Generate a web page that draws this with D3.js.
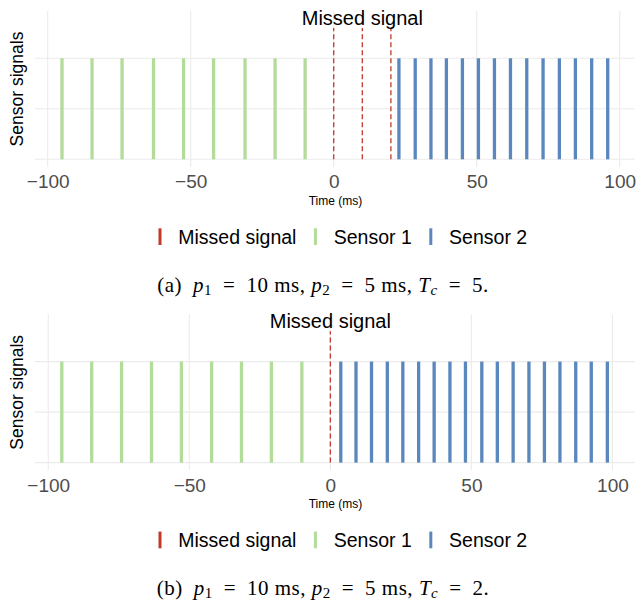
<!DOCTYPE html>
<html>
<head>
    <meta charset="utf-8">
    <script src="https://cdn.jsdelivr.net/npm/d3@7/dist/d3.min.js"></script>
    <style>
        body { margin: 0; background: #fff; }
    </style>
</head>

<body>
<div id="chart"></div>

<script>

    // data (times in ms)
    var sensor1A = [-95, -84.5, -74, -63, -52.5, -42, -31, -20.5, -10];
    var sensor2A = [22.8, 28.5, 34, 39.4, 45, 50.6, 56.2, 61.8, 67.5, 73.2, 78.9, 84.5, 90.2, 95.8];
    var missedA = [0, 10, 20];

    var sensor1B = [-95.2, -84.6, -74, -63.4, -52.8, -42.1, -31.5, -20.9, -10.1];
    var sensor2B = [3.7, 9.1, 14.6, 20.2, 25.7, 31.3, 36.8, 42.4, 47.9, 53.7, 59.2, 64.8, 70.4, 75.9, 81.4, 87.0, 92.5, 98.2];
    var missedB = [0];

    var xTicks = [-100, -50, 0, 50, 100];
    var yTicks = [0, 0.5, 1];

    var signalTop = 1;     // height of sensor bars
    var missedTop = 1.3;   // height of dashed lines
    var labelY = 1.4;      // where "Missed signal" sits

    var legendNames = ['Missed signal', 'Sensor 1', 'Sensor 2'];
    var colors = { missed: '#c0392b', s1: '#b3dc9b', s2: '#5a87bd' };
    var legendColors = [colors.missed, colors.s1, colors.s2];

    var width = 638, height = 603;
    var panelOffset = 303.3;

    var svg = d3.select('#chart').append('svg')
        .attr('width', width)
        .attr('height', height)
        .style('font-family', 'Liberation Sans, Arial, sans-serif');

    function drawPanel(top, xDomain, s1, s2, missed, captionParts) {
        var g = svg.append('g').attr('transform', 'translate(0,' + top + ')');

        var x = d3.scaleLinear().domain(xDomain).range([35, 634.7]);
        var y = d3.scaleLinear().domain([-0.076, 1.468]).range([167, 11]);

        // grid
        g.selectAll('.vgrid').data(xTicks).enter().append('line')
            .attr('x1', x).attr('x2', x)
            .attr('y1', y.range()[1]).attr('y2', y.range()[0])
            .attr('stroke', '#ebebeb').attr('stroke-width', 1.1);
        g.selectAll('.hgrid').data(yTicks).enter().append('line')
            .attr('x1', x.range()[0]).attr('x2', x.range()[1])
            .attr('y1', y).attr('y2', y)
            .attr('stroke', '#ebebeb').attr('stroke-width', 1.1);

        // x axis labels
        var axis = g.append('g')
            .attr('transform', 'translate(0,' + y.range()[0] + ')')
            .call(d3.axisBottom(x).tickValues(xTicks).tickSize(0).tickPadding(8));
        axis.select('.domain').remove();
        axis.selectAll('text')
            .attr('fill', '#4d4d4d')
            .style('font-size', '19px')
            .style('font-family', 'Liberation Sans, Arial, sans-serif');

        // sensor bars
        g.selectAll('.s1').data(s1).enter().append('line')
            .attr('x1', x).attr('x2', x)
            .attr('y1', y(0)).attr('y2', y(signalTop))
            .attr('stroke', colors.s1).attr('stroke-width', 3.3);
        g.selectAll('.s2').data(s2).enter().append('line')
            .attr('x1', x).attr('x2', x)
            .attr('y1', y(0)).attr('y2', y(signalTop))
            .attr('stroke', colors.s2).attr('stroke-width', 3.3);

        // missed signals
        g.selectAll('.missed').data(missed).enter().append('line')
            .attr('x1', x).attr('x2', x)
            .attr('y1', y(0)).attr('y2', y(missedTop))
            .attr('stroke', colors.missed).attr('stroke-width', 1.3)
            .attr('stroke-dasharray', '5,3');

        g.append('text')
            .attr('x', x(d3.mean(missed)))
            .attr('y', y(labelY))
            .attr('dy', '0.36em')
            .attr('text-anchor', 'middle')
            .style('font-size', '20px')
            .text('Missed signal');

        // axis titles
        g.append('text')
            .attr('x', 335.5).attr('y', 205)
            .attr('text-anchor', 'middle')
            .style('font-size', '12px')
            .text('Time (ms)');
        g.append('text')
            .attr('transform', 'translate(23,89) rotate(-90)')
            .attr('text-anchor', 'middle')
            .style('font-size', '17.5px')
            .text('Sensor signals');

        // legend
        var lx = 158.5;
        legendNames.forEach(function(name, i) {
            g.append('rect')
                .attr('x', lx).attr('y', 228.3)
                .attr('width', 3).attr('height', 16.7)
                .attr('fill', legendColors[i]);
            var t = g.append('text')
                .attr('x', lx + 19.8).attr('y', 243.8)
                .style('font-size', '19.5px')
                .text(name);
            lx = lx + 19.8 + t.node().getComputedTextLength() + 17.5;
        });

        // caption
        var cap = g.append('text')
            .attr('x', 323).attr('y', 292)
            .attr('text-anchor', 'middle')
            .style('font-family', 'Liberation Serif, Times New Roman, serif')
            .style('font-size', '21px')
            .style('letter-spacing', '0.5px')
            .attr('xml:space', 'preserve');
        captionParts.forEach(function(p) {
            var ts = cap.append('tspan').text(p.t);
            if (p.i) ts.style('font-style', 'italic');
            if (p.sub) ts.attr('dy', p.sub);
            if (p.sub > 0) ts.style('font-size', '15px');
        });
    }

    var eq = '\u2002=\u2002';
    function caption(letter, tc) {
        return [
            { t: '(' + letter + ')\u2002' },
            { t: 'p', i: true }, { t: '1', sub: 3 }, { t: eq + '10 ms, ', sub: -3 },
            { t: 'p', i: true }, { t: '2', sub: 3 }, { t: eq + '5 ms, ', sub: -3 },
            { t: 'T', i: true }, { t: 'c', i: true, sub: 3 }, { t: eq + tc + '.', sub: -3 }
        ];
    }

    drawPanel(0, [-104.44, 105.24], sensor1A, sensor2A, missedA, caption('a', 5));
    drawPanel(panelOffset, [-104.7, 107.9], sensor1B, sensor2B, missedB, caption('b', 2));

</script>
</body>
</html>
